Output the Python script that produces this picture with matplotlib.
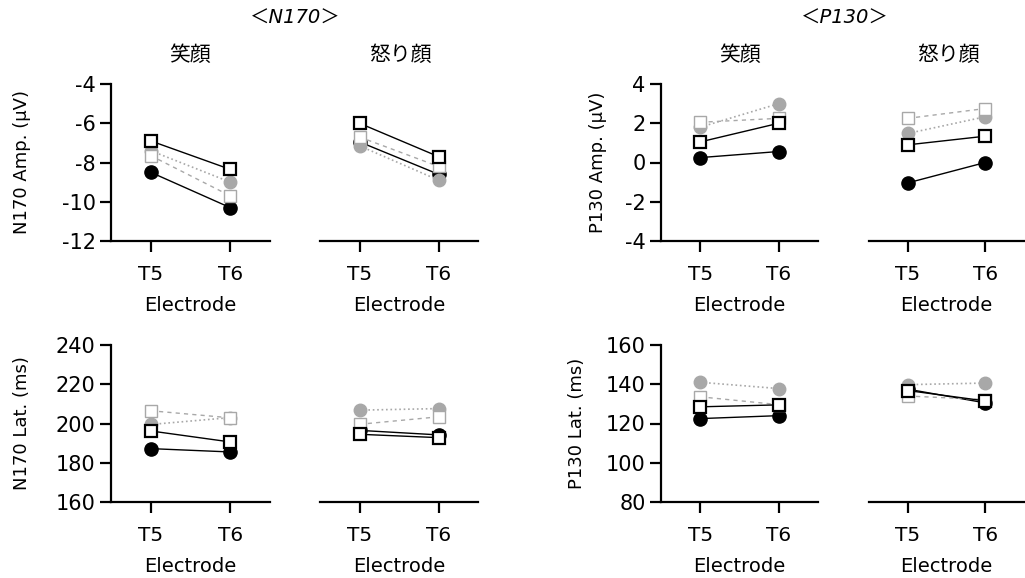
import matplotlib
matplotlib.use("Agg")
import matplotlib.pyplot as plt

plt.rcParams['font.family'] = ['DejaVu Sans', 'Noto Sans CJK JP']
plt.rcParams['axes.unicode_minus'] = False

electrodes = ["T5", "T6"]
conditions = ["笑顔", "怒り顔"]
components = ["＜N170＞", "＜P130＞"]

# Series: A = black filled circle, B = black open square,
#         C = gray filled circle (dotted), D = gray open square (dashed)
# N170 amplitude (uV)
n170_amp_smile = {"A": [-8.5, -10.3], "B": [-6.9, -8.35], "C": [-7.4, -9.0], "D": [-7.65, -9.7]}
n170_amp_angry = {"A": [-6.95, -8.6], "B": [-6.0, -7.7], "C": [-7.15, -8.9], "D": [-6.7, -8.2]}
# P130 amplitude (uV)
p130_amp_smile = {"A": [0.25, 0.56], "B": [1.05, 2.0], "C": [1.8, 3.0], "D": [2.05, 2.25]}
p130_amp_angry = {"A": [-1.04, 0.0], "B": [0.9, 1.34], "C": [1.48, 2.33], "D": [2.25, 2.75]}
# N170 latency (ms)
n170_lat_smile = {"A": [187.2, 185.5], "B": [196.2, 190.6], "C": [199.5, 203.0], "D": [206.5, 202.9]}
n170_lat_angry = {"A": [196.5, 194.2], "B": [194.5, 192.8], "C": [206.8, 207.6], "D": [199.6, 203.4]}
# P130 latency (ms)
p130_lat_smile = {"A": [122.5, 124.0], "B": [128.5, 129.5], "C": [141.0, 137.8], "D": [133.6, 129.6]}
p130_lat_angry = {"A": [137.5, 130.5], "B": [136.8, 131.5], "C": [139.8, 140.6], "D": [134.0, 132.2]}

ylabels = ["N170 Amp. (μV)", "P130 Amp. (μV)", "N170 Lat. (ms)", "P130 Lat. (ms)"]
ylims = [(-12, -4), (-4, 4), (160, 240), (80, 160)]
yticks = [[-12, -10, -8, -6, -4], [-4, -2, 0, 2, 4],
          [160, 180, 200, 220, 240], [80, 100, 120, 140, 160]]

GRAY = "#a8a8a8"
styles = {
    "A": dict(color="black", ls="-", lw=1.0, marker="o", ms=9.5, mfc="black", mec="black", mew=1.0, zorder=3),
    "C": dict(color=GRAY, ls=":", lw=1.2, marker="o", ms=9.0, mfc=GRAY, mec=GRAY, mew=1.0, zorder=4),
    "D": dict(color=GRAY, ls=(0, (3, 3)), lw=1.0, marker="s", ms=9.0, mfc="white", mec=GRAY, mew=1.0, zorder=5),
    "B": dict(color="black", ls="-", lw=1.0, marker="s", ms=9.0, mfc="white", mec="black", mew=1.6, zorder=6),
}

W, H = 1025, 578
fig = plt.figure(figsize=(W / 100, H / 100), dpi=100)

def px_axes(x0, x1, ytop, ybot):
    return fig.add_axes([x0 / W, 1 - ybot / H, (x1 - x0) / W, (ybot - ytop) / H])

xcols = [(111, 270), (320, 478), (661, 818), (869, 1024)]
rows = [(84, 241), (345, 502)]
ylabel_x = {0: 22, 1: 598, 2: 22, 3: 577}

panels = [
    (0, 0, n170_amp_smile, 0), (0, 1, n170_amp_angry, 0),
    (0, 2, p130_amp_smile, 1), (0, 3, p130_amp_angry, 1),
    (1, 0, n170_lat_smile, 2), (1, 1, n170_lat_angry, 2),
    (1, 2, p130_lat_smile, 3), (1, 3, p130_lat_angry, 3),
]

xpos = [0, 1]
for r, c, data, yi in panels:
    x0, x1 = xcols[c]
    ytop, ybot = rows[r]
    ax = px_axes(x0, x1, ytop, ybot)
    for key in ["A", "C", "D", "B"]:
        st = styles[key]
        ax.plot(xpos, data[key], clip_on=False, **st)
    ax.set_xlim(-0.5, 1.5)
    ax.set_ylim(*ylims[yi])
    ax.set_xticks(xpos)
    ax.set_xticklabels(electrodes, fontsize=14.5)
    ax.set_xlabel("Electrode", fontsize=14, labelpad=9)
    for s in ["top", "right"]:
        ax.spines[s].set_visible(False)
    ax.spines["bottom"].set_linewidth(1.6)
    ax.spines["left"].set_linewidth(1.6)
    ax.tick_params(axis="x", direction="out", length=8, width=1.6, pad=9)
    ax.tick_params(axis="y", direction="out", length=8, width=1.6, labelsize=15, pad=3)
    if c in (0, 2):
        ax.set_yticks(yticks[yi])
        ax.set_ylabel(ylabels[yi], fontsize=13, va="center")
        ax.yaxis.set_label_coords((ylabel_x[yi] - x0) / (x1 - x0), 0.5)
    else:
        ax.spines["left"].set_visible(False)
        ax.set_yticks([])
    ax.patch.set_alpha(0)

# Condition titles
cond_x = [190, 400, 740, 948]
for i, cx in enumerate(cond_x):
    fig.text(cx / W, 1 - 55 / H, conditions[i % 2], ha="center", va="center",
             fontsize=15, family=["Noto Sans CJK JP", "DejaVu Sans"])

# Component titles
for comp, cx in zip(components, [295, 845]):
    fig.text(cx / W, 1 - 18 / H, comp, ha="center", va="center", fontsize=14,
             style="italic", family=["DejaVu Sans", "Noto Sans CJK JP"])

fig.savefig("out.png", dpi=100)
